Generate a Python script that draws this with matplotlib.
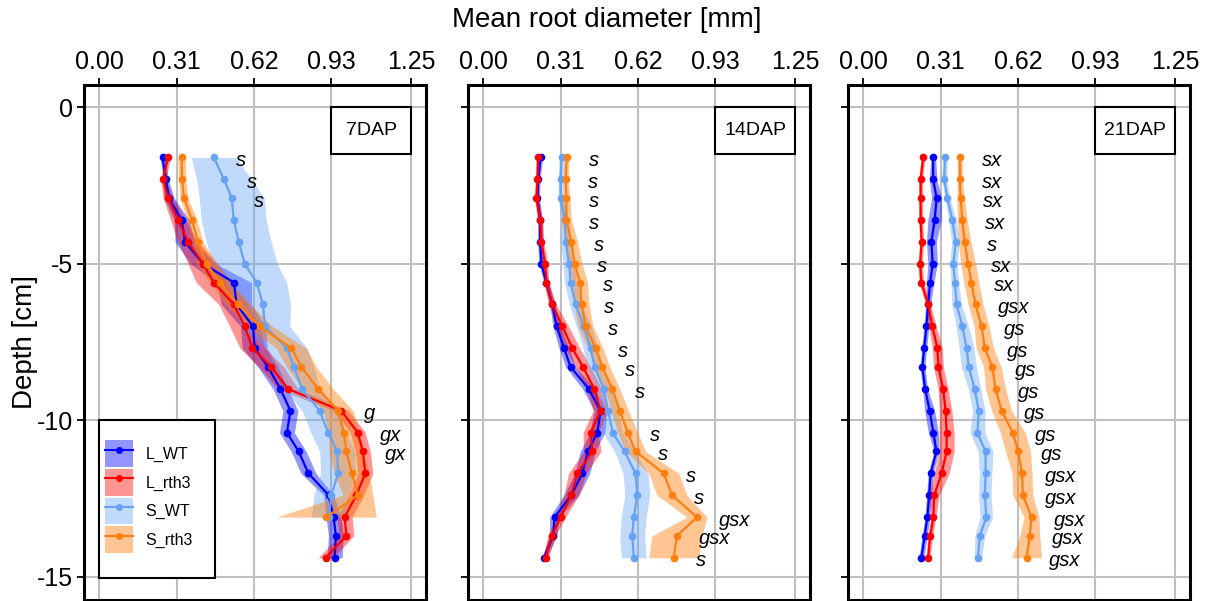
import matplotlib.pyplot as plt
import numpy as np
from matplotlib.lines import Line2D
from matplotlib.patches import Patch, Rectangle

plt.rcParams["font.family"] = ["Liberation Sans", "DejaVu Sans"]
plt.rcParams["axes.unicode_minus"] = False

nan = np.nan

depth = [-1.6, -2.3, -2.9, -3.6, -4.3, -5.0, -5.6, -6.3, -7.0, -7.7,
         -8.3, -9.0, -9.7, -10.4, -11.0, -11.7, -12.4, -13.1, -13.7, -14.4]

panel_names = ["7DAP", "14DAP", "21DAP"]
series_names = ["L_WT", "L_rth3", "S_WT", "S_rth3"]
x_ticks = [0.00, 0.31, 0.62, 0.93, 1.25]

# 7 DAP
d7_L_WT = [0.254, 0.267, 0.28, 0.33, 0.344, 0.416, 0.54, 0.55, 0.616, 0.623,
           0.676, 0.726, 0.766, 0.752, 0.799, 0.838, 0.919, 0.939, 0.948, 0.943]
d7_L_WT_err = [0.01, 0.01, 0.02, 0.03, 0.04, 0.05, 0.07, 0.06, 0.05, 0.05,
               0.04, 0.03, 0.03, 0.03, 0.03, 0.03, 0.02, 0.03, 0.03, 0.03]
d7_L_rth3 = [0.276, 0.256, 0.276, 0.316, 0.356, 0.416, 0.459, 0.539, 0.583, 0.614,
             0.69, 0.756, 0.97, 1.036, 1.056, 1.066, 1.03, 0.983, 0.99, 0.907]
d7_L_rth3_err = [0.01, 0.01, 0.02, 0.03, 0.04, 0.06, 0.07, 0.06, 0.06, 0.05,
                 0.05, 0.04, 0.03, 0.03, 0.03, 0.03, 0.03, 0.03, 0.03, 0.03]
d7_S_WT = [0.459, 0.50, 0.531, 0.539, 0.559, 0.583, 0.631, 0.656, 0.664, 0.752,
           0.78, 0.812, 0.883, 0.918, 0.953, 0.957, 0.93, 0.92, nan, nan]
d7_S_WT_err = [0.09, 0.11, 0.13, 0.13, 0.13, 0.13, 0.12, 0.11, 0.10, 0.08,
               0.08, 0.07, 0.07, 0.07, 0.07, 0.07, 0.07, 0.07, nan, nan]
d7_S_rth3 = [0.33, 0.332, 0.34, 0.372, 0.396, 0.43, 0.483, 0.556, 0.643, 0.77,
             0.81, 0.877, 0.957, 0.98, 0.99, 1.012, 1.036, 0.91, nan, nan]
d7_S_rth3_err = [0.015, 0.015, 0.015, 0.02, 0.02, 0.04, 0.04, 0.05, 0.05, 0.06,
                 0.06, 0.06, 0.06, 0.06, 0.07, 0.07, 0.06, 0.2, nan, nan]
d7_sig = ["s", "s", "s", "", "", "", "", "", "", "",
          "", "", "g", "gx", "gx", "", "", "", "", ""]

# 14 DAP
d14_L_WT = [0.23, 0.22, 0.217, 0.228, 0.228, 0.233, 0.253, 0.277, 0.294, 0.324,
            0.35, 0.423, 0.47, 0.457, 0.419, 0.397, 0.353, 0.286, 0.28, 0.244]
d14_L_WT_err = [0.008, 0.008, 0.008, 0.01, 0.01, 0.01, 0.01, 0.01, 0.015, 0.02,
                0.02, 0.025, 0.025, 0.03, 0.03, 0.03, 0.03, 0.02, 0.015, 0.01]
d14_L_rth3 = [0.22, 0.217, 0.213, 0.228, 0.233, 0.248, 0.253, 0.277, 0.317, 0.357,
              0.40, 0.445, 0.47, 0.43, 0.437, 0.377, 0.353, 0.31, 0.274, 0.25]
d14_L_rth3_err = [0.008, 0.008, 0.008, 0.01, 0.01, 0.01, 0.01, 0.015, 0.025, 0.03,
                  0.03, 0.03, 0.03, 0.03, 0.035, 0.035, 0.03, 0.02, 0.015, 0.01]
d14_S_WT = [0.314, 0.31, 0.31, 0.328, 0.33, 0.344, 0.35, 0.37, 0.403, 0.43,
            0.446, 0.483, 0.50, 0.519, 0.566, 0.61, 0.617, 0.603, 0.597, 0.603]
d14_S_WT_err = [0.01, 0.01, 0.01, 0.015, 0.02, 0.025, 0.025, 0.025, 0.03, 0.03,
                0.03, 0.03, 0.04, 0.04, 0.04, 0.05, 0.05, 0.05, 0.05, 0.05]
d14_S_rth3 = [0.334, 0.33, 0.333, 0.333, 0.353, 0.366, 0.388, 0.394, 0.41, 0.45,
              0.477, 0.517, 0.547, 0.579, 0.61, 0.723, 0.756, 0.856, 0.776, 0.763]
d14_S_rth3_err = [0.01, 0.01, 0.015, 0.02, 0.025, 0.03, 0.03, 0.03, 0.03, 0.03,
                  0.03, 0.03, 0.035, 0.04, 0.04, 0.06, 0.06, 0.04, 0.1, 0.1]
d14_sig = ["s", "s", "s", "s", "s", "s", "s", "s", "s", "s",
           "s", "s", "", "s", "s", "s", "s", "gsx", "gsx", "s"]

# 21 DAP
d21_L_WT = [0.28, 0.28, 0.294, 0.286, 0.273, 0.278, 0.268, 0.26, 0.253, 0.244,
            0.237, 0.248, 0.266, 0.281, 0.293, 0.27, 0.264, 0.257, 0.246, 0.233]
d21_L_WT_err = [0.01, 0.015, 0.02, 0.027, 0.02, 0.019, 0.015, 0.01, 0.01, 0.01,
                0.01, 0.01, 0.02, 0.02, 0.01, 0.01, 0.01, 0.01, 0.01, 0.01]
d21_L_rth3 = [0.24, 0.23, 0.23, 0.23, 0.234, 0.228, 0.233, 0.26, 0.277, 0.297,
              0.301, 0.32, 0.33, 0.334, 0.334, 0.314, 0.284, 0.281, 0.268, 0.26]
d21_L_rth3_err = [0.008, 0.008, 0.008, 0.008, 0.008, 0.008, 0.01, 0.01, 0.015, 0.02,
                  0.02, 0.02, 0.025, 0.03, 0.03, 0.03, 0.02, 0.01, 0.01, 0.008]
d21_S_WT = [0.328, 0.324, 0.337, 0.357, 0.37, 0.361, 0.367, 0.374, 0.397, 0.414,
            0.423, 0.446, 0.463, 0.457, 0.49, 0.49, 0.487, 0.493, 0.467, 0.459]
d21_S_WT_err = [0.01, 0.01, 0.01, 0.015, 0.015, 0.015, 0.015, 0.02, 0.025, 0.03,
                0.03, 0.025, 0.025, 0.03, 0.03, 0.025, 0.025, 0.025, 0.02, 0.015]
d21_S_rth3 = [0.387, 0.387, 0.39, 0.397, 0.406, 0.42, 0.433, 0.45, 0.474, 0.487,
              0.517, 0.53, 0.554, 0.599, 0.62, 0.636, 0.639, 0.674, 0.667, 0.654]
d21_S_rth3_err = [0.01, 0.01, 0.015, 0.02, 0.025, 0.03, 0.03, 0.03, 0.03, 0.035,
                  0.035, 0.04, 0.04, 0.05, 0.05, 0.04, 0.04, 0.03, 0.04, 0.06]
d21_sig = ["sx", "sx", "sx", "sx", "s", "sx", "sx", "gsx", "gs", "gs",
           "gs", "gs", "gs", "gs", "gs", "gsx", "gsx", "gsx", "gsx", "gsx"]

panel_data = [
    ([d7_L_WT, d7_L_rth3, d7_S_WT, d7_S_rth3],
     [d7_L_WT_err, d7_L_rth3_err, d7_S_WT_err, d7_S_rth3_err], d7_sig),
    ([d14_L_WT, d14_L_rth3, d14_S_WT, d14_S_rth3],
     [d14_L_WT_err, d14_L_rth3_err, d14_S_WT_err, d14_S_rth3_err], d14_sig),
    ([d21_L_WT, d21_L_rth3, d21_S_WT, d21_S_rth3],
     [d21_L_WT_err, d21_L_rth3_err, d21_S_WT_err, d21_S_rth3_err], d21_sig),
]

colors = {"L_WT": "#0000ff", "L_rth3": "#ff0000", "S_WT": "#66a3f5", "S_rth3": "#ff7f0e"}
fill_alpha = {"L_WT": 0.42, "L_rth3": 0.42, "S_WT": 0.4, "S_rth3": 0.45}

fig = plt.figure(figsize=(12.13, 6.01), dpi=100)
lefts = [0.0692, 0.3858, 0.6991]
y = np.array(depth)

for k, (name, (means, errs, sig)) in enumerate(zip(panel_names, panel_data)):
    ax = fig.add_axes([lefts[k], 0.0017, 0.2822, 0.857])
    for s, m, e in zip(series_names, means, errs):
        m = np.array(m, dtype=float)
        e = np.array(e, dtype=float)
        ax.fill_betweenx(y, m - e, m + e, color=colors[s], alpha=fill_alpha[s], lw=0)
        ax.plot(m, y, color=colors[s], marker="o", ms=4.5, lw=1.6)

    # significance letters to the right of the curves
    top = np.nanmax(np.array(means, dtype=float), axis=0)
    for yi, xi, lab in zip(y, top, sig):
        if lab:
            ax.text(xi + 0.09, yi - 0.1, lab, fontsize=14.5, style="italic", va="center", ha="left")

    # panel tag box
    ax.add_patch(Rectangle((0.93, -1.5), 0.32, 1.5, fill=False, ec="black", lw=1.5, zorder=5))
    ax.text(1.09, -0.75, name, ha="center", va="center", fontsize=14, zorder=6)

    ax.set_xlim(-0.061, 1.31)
    ax.set_ylim(-15.75, 0.72)
    ax.xaxis.tick_top()
    ax.set_xticks(x_ticks)
    ax.set_xticklabels([f"{v:.2f}" for v in x_ticks])
    ax.set_yticks([0, -5, -10, -15])
    ax.tick_params(axis="both", direction="out", length=5, width=1.3, labelsize=18, pad=3)
    if k > 0:
        ax.set_yticklabels([])
    ax.grid(True, color="#c0c0c0", lw=1.5)
    ax.set_axisbelow(True)
    for sp in ax.spines.values():
        sp.set_linewidth(2.2)

    if k == 0:
        # legend box sits on the grid cell at the lower left
        ax.add_patch(Rectangle((0.0, -15.05), 0.463, 5.05, fc="white", ec="black", lw=1.5, zorder=7))
        handles = [(Patch(facecolor=colors[s], alpha=fill_alpha[s], lw=0),
                    Line2D([], [], color=colors[s], marker="o", ms=4, lw=1.5)) for s in series_names]
        leg = ax.legend(handles, series_names, loc="center", bbox_to_anchor=(0.2, -12.45),
                        bbox_transform=ax.transData, borderaxespad=0, fontsize=11.5,
                        handlelength=1.75, handleheight=2.2, labelspacing=0.12,
                        handletextpad=0.75, borderpad=0.2, frameon=False)
        leg.set_zorder(8)

fig.text(0.5, 1 - 20 / 601, "Mean root diameter [mm]", ha="center", va="center", fontsize=20)
fig.text(25 / 1213, 1 - 342 / 601, "Depth [cm]", ha="center", va="center", rotation=90, fontsize=20)

fig.savefig("out.png", dpi=100)
